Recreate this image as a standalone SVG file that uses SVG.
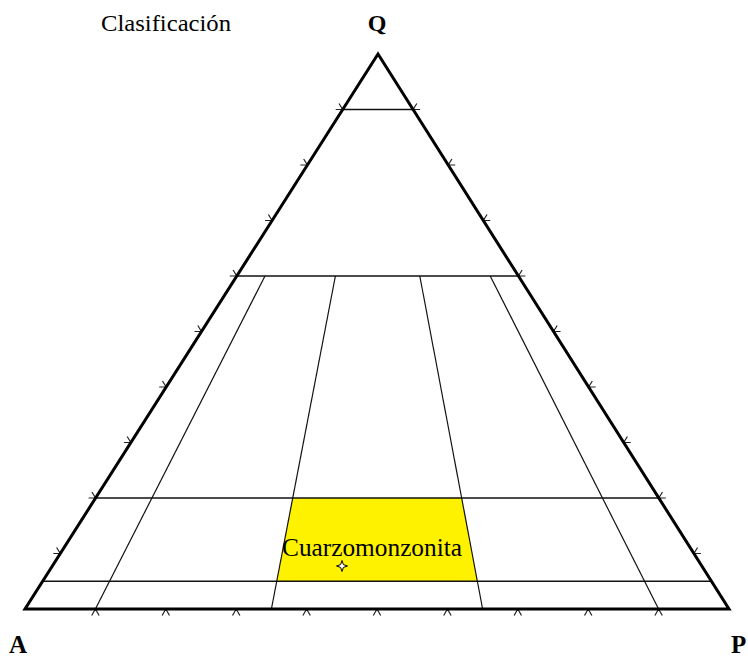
<svg xmlns="http://www.w3.org/2000/svg" width="748" height="657" viewBox="0 0 748 657">
<style>
.edge{fill:none;stroke:#000;stroke-width:3;stroke-linejoin:miter}
.hline{fill:none;stroke:#111;stroke-width:1.6}
.rline{fill:none;stroke:#111;stroke-width:1.2}
.tick{fill:none;stroke:#222;stroke-width:1.2}
.lbl{font-family:"Liberation Serif","Times New Roman",serif;fill:#000}
.vtx{font-family:"Liberation Serif","Times New Roman",serif;font-weight:bold;fill:#000}
</style>
<rect width="748" height="657" fill="#fff"/>
<g id="field-cuarzomonzonita">
<polygon points="292.7,498 461.7,498 477.4,581.3 276.7,581.3" fill="#fff200"/>
</g>
<g id="connectors">
<g id="horizontal-lines">
<line class="hline" x1="342.7" y1="109.5" x2="413.1" y2="109.5"/>
<line class="hline" x1="236.8" y1="276" x2="518.4" y2="276"/>
<line class="hline" x1="95.6" y1="498" x2="658.8" y2="498"/>
<line class="hline" x1="42.7" y1="581.3" x2="711.5" y2="581.3"/>
</g>
<g id="radial-lines">
<line class="rline" x1="265" y1="276" x2="95.4" y2="609"/>
<line class="rline" x1="335.4" y1="276" x2="271.4" y2="609"/>
<line class="rline" x1="419.8" y1="276" x2="482.6" y2="609"/>
<line class="rline" x1="490.2" y1="276" x2="658.6" y2="609"/>
</g>
<g id="ticks">
<path class="tick" d="M60.3,553.5h-7M60.3,553.5l-3.7,-6M95.6,498h-7M95.6,498l-3.7,-6M130.9,442.5h-7M130.9,442.5l-3.7,-6M166.2,387h-7M166.2,387l-3.7,-6M201.5,331.5h-7M201.5,331.5l-3.7,-6M236.8,276h-7M236.8,276l-3.7,-6M272.1,220.5h-7M272.1,220.5l-3.7,-6M307.4,165h-7M307.4,165l-3.7,-6M342.7,109.5h-7M342.7,109.5l-3.7,-6"/>
<path class="tick" d="M693.9,553.5h7M693.9,553.5l3.7,-6M658.8,498h7M658.8,498l3.7,-6M623.7,442.5h7M623.7,442.5l3.7,-6M588.6,387h7M588.6,387l3.7,-6M553.5,331.5h7M553.5,331.5l3.7,-6M518.4,276h7M518.4,276l3.7,-6M483.3,220.5h7M483.3,220.5l3.7,-6M448.2,165h7M448.2,165l3.7,-6M413.1,109.5h7M413.1,109.5l3.7,-6"/>
<path class="tick" d="M95.4,609l-3.7,6.5M95.4,609l3.7,6.5M165.8,609l-3.7,6.5M165.8,609l3.7,6.5M236.2,609l-3.7,6.5M236.2,609l3.7,6.5M306.6,609l-3.7,6.5M306.6,609l3.7,6.5M377,609l-3.7,6.5M377,609l3.7,6.5M447.4,609l-3.7,6.5M447.4,609l3.7,6.5M517.8,609l-3.7,6.5M517.8,609l3.7,6.5M588.2,609l-3.7,6.5M588.2,609l3.7,6.5M658.6,609l-3.7,6.5M658.6,609l3.7,6.5"/>
</g>
</g>
<g id="triangle">
<polygon class="edge" points="378,54 729,609 25,609"/>
</g>
<g id="title">
<text class="lbl" x="101" y="31" font-size="23" textLength="130" lengthAdjust="spacingAndGlyphs">Clasificación</text>
</g>
<g id="vertex-Q">
<text class="vtx" x="377" y="31" font-size="24" text-anchor="middle">Q</text>
</g>
<g id="vertex-A">
<text class="vtx" x="9" y="653" font-size="25">A</text>
</g>
<g id="vertex-P">
<text class="vtx" x="731" y="653" font-size="25">P</text>
</g>
<g id="label-cuarzomonzonita">
<text class="lbl" x="282" y="556" font-size="25" textLength="180" lengthAdjust="spacingAndGlyphs">Cuarzomonzonita</text>
</g>
<g id="sample-point">
<path d="M342,560.5L343.4,564.6L347.5,566L343.4,567.4L342,571.5L340.6,567.4L336.5,566L340.6,564.6Z" fill="#fff" stroke="#000" stroke-width="1"/>
</g>
</svg>
